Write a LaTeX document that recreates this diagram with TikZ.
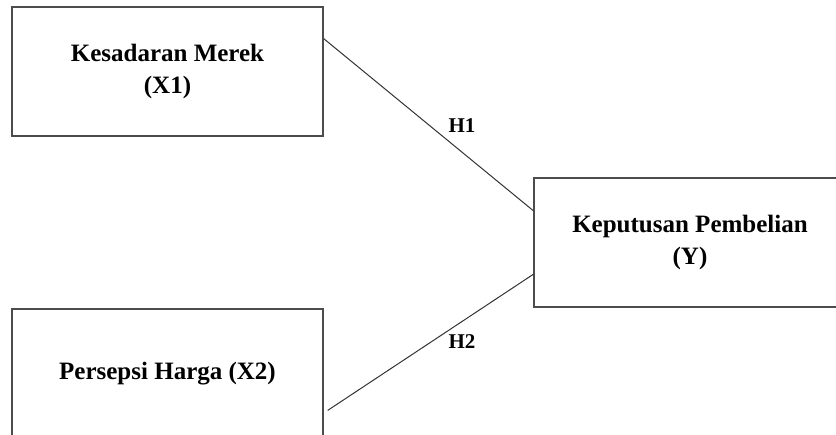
\documentclass[tikz,border=0pt]{standalone}
\usepackage{fontspec}
\setmainfont{Liberation Serif}
\usetikzlibrary{calc}
\tikzset{
  varbox/.style={draw=black!70, line width=1.4pt, fill=white, align=center, inner sep=0pt,
    font=\fontsize{25}{32}\selectfont\bfseries},
  hlabel/.style={font=\fontsize{21}{24}\selectfont\bfseries, inner sep=0pt},
  link/.style={draw=black!80, line width=1pt}
}
\begin{document}
\begin{tikzpicture}[x=1pt, y=-1pt]
\useasboundingbox (0,0) rectangle (836,435);
\clip (0,0) rectangle (836,435);
\node[varbox, minimum width=311pt, minimum height=129pt] (b1) at (167.5,71.5) {Kesadaran Merek\\(X1)};
\node[varbox, minimum width=312pt, minimum height=129pt] (b2) at (690,242.5) {Keputusan Pembelian\\(Y)};
\node[varbox, minimum width=311pt, minimum height=130pt] (b3) at (167.5,374) {Persepsi Harga (X2)};
\coordinate (s1) at ($(b1.north east)!0.248!(b1.south east)$);
\coordinate (e1) at ($(b2.north west)!0.256!(b2.south west)$);
\coordinate (s2) at ($(b3.north east)!0.777!(b3.south east)+(4,0)$);
\coordinate (e2) at ($(b2.north west)!0.744!(b2.south west)$);
\draw[link] (s1) -- (e1);
\draw[link] (s2) -- (e2);
\node[hlabel] (h1) at (462,126) {H1};
\node[hlabel] (h2) at (462,342) {H2};
\end{tikzpicture}
\end{document}
